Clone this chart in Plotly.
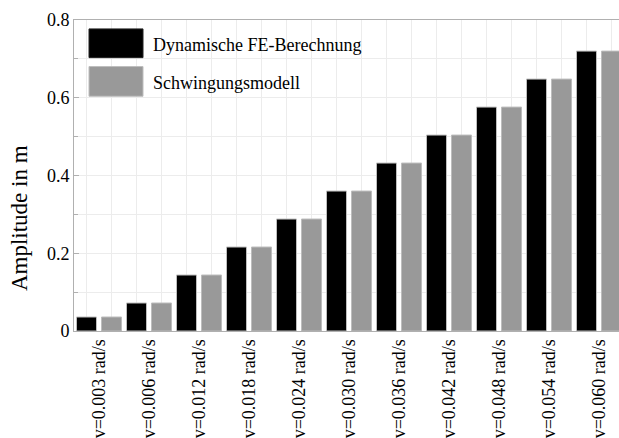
import plotly.graph_objects as go

# Angular velocities (category labels) and computed amplitudes in m
speeds = ["v=0.003 rad/s", "v=0.006 rad/s", "v=0.012 rad/s", "v=0.018 rad/s",
          "v=0.024 rad/s", "v=0.030 rad/s", "v=0.036 rad/s", "v=0.042 rad/s",
          "v=0.048 rad/s", "v=0.054 rad/s", "v=0.060 rad/s"]
fe_amplitude = [0.036, 0.072, 0.144, 0.216, 0.288, 0.360, 0.432, 0.504, 0.576, 0.648, 0.720]
model_amplitude = [0.036, 0.072, 0.144, 0.216, 0.288, 0.360, 0.432, 0.504, 0.576, 0.648, 0.720]
series_names = ["Dynamische FE-Berechnung", "Schwingungsmodell"]
y_ticks = [0, 0.2, 0.4, 0.6, 0.8]
y_tick_text = ["0", "0.2", "0.4", "0.6", "0.8"]
y_title = "Amplitude in m"

FONT = "Liberation Serif"
BLACK = "#000000"
GRAY = "#999999"
EDGE = "#bdbdbd"
GRID = "#ececec"
AXIS = "#b0b0b0"

idx = list(range(len(speeds)))

fig = go.Figure()
fig.add_trace(go.Bar(x=idx, y=fe_amplitude, name=series_names[0],
                     marker=dict(color=BLACK, line=dict(color=EDGE, width=1)),
                     offsetgroup="fe", showlegend=False))
fig.add_trace(go.Bar(x=idx, y=model_amplitude, name=series_names[1],
                     marker=dict(color=GRAY, line=dict(color=EDGE, width=1)),
                     offsetgroup="model", showlegend=False))

W, H = 619, 438
L, R, T, B = 74, 0, 20, 104
pw, ph = W - L - R, H - T - B


def px(x):
    return (x - L) / pw


def py(y):
    return (H - B - y) / ph


# Legend drawn as large swatches with labels
shapes = []
annotations = []
legend_rows = [(29, 58, BLACK, "#222222", series_names[0], 45),
               (67, 97, GRAY, EDGE, series_names[1], 84)]
for top, bottom, fill, edge, label, ty in legend_rows:
    shapes.append(dict(type="rect", xref="paper", yref="paper",
                       x0=px(89), x1=px(143), y0=py(bottom), y1=py(top),
                       fillcolor=fill, line=dict(color=edge, width=1)))
    annotations.append(dict(text=label, xref="paper", yref="paper",
                            x=px(151), y=py(ty), xanchor="left", yanchor="middle",
                            showarrow=False, font=dict(family=FONT, size=18, color="black")))

# Vertical axis title, centred on the full figure height
annotations.append(dict(text=y_title, xref="paper", yref="paper",
                        x=px(19), y=py(220), xanchor="center", yanchor="middle",
                        textangle=-90, showarrow=False,
                        font=dict(family=FONT, size=23, color="black")))

tick_font = dict(family=FONT, size=18, color="black")

fig.update_layout(
    width=W, height=H,
    margin=dict(l=L, r=R, t=T, b=B, pad=0),
    paper_bgcolor="white", plot_bgcolor="white",
    barmode="group", bargap=0.0, bargroupgap=0.2,
    font=dict(family=FONT, size=18, color="black"),
    shapes=shapes, annotations=annotations,
    xaxis=dict(range=[-0.5, 10.4], tickmode="array", tickvals=idx, ticktext=speeds,
               tickangle=-90, ticks="", showgrid=False, zeroline=False,
               showline=True, linecolor=AXIS, linewidth=1, mirror=True,
               tickfont=tick_font,
               minor=dict(tick0=-0.25, dtick=0.5, showgrid=True, gridcolor=GRID,
                          gridwidth=1, ticks="")),
    yaxis=dict(range=[0, 0.8], tickmode="array", tickvals=y_ticks, ticktext=y_tick_text,
               ticks="inside", ticklen=5, tickcolor=AXIS, showgrid=True, gridcolor=GRID,
               zeroline=False, showline=True, linecolor=AXIS, linewidth=1,
               tickfont=tick_font,
               minor=dict(dtick=0.1, ticks="inside", ticklen=4, tickcolor=AXIS,
                          showgrid=True, gridcolor=GRID)),
)

fig.write_html("out.html")
